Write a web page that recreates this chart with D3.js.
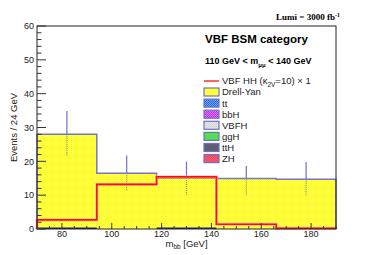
<!DOCTYPE html>
<html>
<head>
<meta charset="utf-8">
<script src="https://cdn.jsdelivr.net/npm/d3@7"></script>
<style>
body { margin: 0; background: white; }
text { font-family: "Liberation Sans", Arial, sans-serif; }
</style>
</head>
<body>
<div class="chart"></div>
<script>
var binEdges = [70, 94, 118, 142, 166, 190]
var dyValues = [28.0, 16.5, 15.1, 14.9, 14.7]
var ttValues = [0.15, 0, 0.15, 0, 0]
var signalValues = [2.7, 13.2, 15.4, 1.4, 0.2]
var errUp = [34.9, 21.7, 19.9, 18.6, 19.8]
var errDown = [21.5, 11.2, 10.2, 10.0, 9.8]
var xTicks = [80, 100, 120, 140, 160, 180]
var yTicks = [0, 10, 20, 30, 40, 50, 60]

var legendItems = [
    {name: "Drell-Yan", fill: "#ffff00", dot: "#ffff70"},
    {name: "tt", fill: "#1560e0", dot: "#80b0f0"},
    {name: "bbH", fill: "#b818f0", dot: "#e090fa"},
    {name: "VBFH", fill: "#cccccc", dot: "#efefef"},
    {name: "ggH", fill: "#10d010", dot: "#90f090"},
    {name: "ttH", fill: "#30303f", dot: "#9090a0"},
    {name: "ZH", fill: "#f01030", dot: "#f890a0"}
]

var width = 374, height = 255
var padL = 37, padR = 336, padT = 26, padB = 229

var svg = d3.select(".chart")
    .append("svg")
    .attr("width", width)
    .attr("height", height)

var defs = svg.append("defs")
legendItems.forEach(function(d, i) {
    var p = defs.append("pattern")
        .attr("id", "pat" + i)
        .attr("width", 2)
        .attr("height", 2)
        .attr("patternUnits", "userSpaceOnUse")
    p.append("rect").attr("width", 2).attr("height", 2).attr("fill", d.fill)
    p.append("rect").attr("width", 1).attr("height", 1).attr("fill", d.dot)
    p.append("rect").attr("x", 1).attr("y", 1).attr("width", 1).attr("height", 1).attr("fill", d.dot)
})

var x = d3.scaleLinear().domain([70, 190]).range([padL, padR])
var y = d3.scaleLinear().domain([0, 60]).range([padB, padT])

var bins = dyValues.map(function(v, i) {
    return {x0: binEdges[i], x1: binEdges[i + 1], dy: v, tt: ttValues[i],
        sig: signalValues[i], up: errUp[i], down: errDown[i]}
})

function stepPath(key) {
    var pts = [[x(binEdges[0]), y(0)]]
    bins.forEach(function(b) {
        pts.push([x(b.x0), y(b[key])])
        pts.push([x(b.x1), y(b[key])])
    })
    pts.push([x(binEdges[binEdges.length - 1]), y(0)])
    return d3.line()(pts)
}

// error bars (solid part above the stack)
svg.selectAll(".errUp")
    .data(bins)
    .enter().append("line")
    .attr("x1", function(d) { return x((d.x0 + d.x1) / 2) })
    .attr("x2", function(d) { return x((d.x0 + d.x1) / 2) })
    .attr("y1", function(d) { return y(d.up) })
    .attr("y2", function(d) { return y(d.dy) })
    .attr("stroke", "#6f6fc4")
    .attr("stroke-width", 1.2)

// Drell-Yan stack
svg.append("path")
    .attr("d", stepPath("dy"))
    .attr("fill", "url(#pat0)")
    .attr("stroke", "none")

// error bars inside the stack look dotted
svg.selectAll(".errDown")
    .data(bins)
    .enter().append("line")
    .attr("x1", function(d) { return x((d.x0 + d.x1) / 2) })
    .attr("x2", function(d) { return x((d.x0 + d.x1) / 2) })
    .attr("y1", function(d) { return y(d.dy) })
    .attr("y2", function(d) { return y(d.down) })
    .attr("stroke", "#8a8a80")
    .attr("stroke-width", 1.2)
    .attr("stroke-dasharray", "1,1")

svg.append("path")
    .attr("d", stepPath("dy"))
    .attr("fill", "none")
    .attr("stroke", "#7474cc")
    .attr("stroke-width", 1.5)

// tiny backgrounds at the bottom
svg.selectAll(".tt")
    .data(bins.filter(function(d) { return d.tt > 0 }))
    .enter().append("rect")
    .attr("x", function(d) { return x(d.x0) })
    .attr("width", function(d) { return x(d.x1) - x(d.x0) })
    .attr("y", function(d) { return y(d.tt) - 1 })
    .attr("height", function(d) { return y(0) - y(d.tt) + 1 })
    .attr("fill", "#20207a")

// signal
svg.append("path")
    .attr("d", stepPath("sig"))
    .attr("fill", "none")
    .attr("stroke", "#ffb0b0")
    .attr("stroke-width", 2.8)
svg.append("path")
    .attr("d", stepPath("sig"))
    .attr("fill", "none")
    .attr("stroke", "#ff1010")
    .attr("stroke-width", 1.6)

// frame
svg.append("rect")
    .attr("x", padL)
    .attr("y", padT)
    .attr("width", padR - padL)
    .attr("height", padB - padT)
    .attr("fill", "none")
    .attr("stroke", "#222")
    .attr("stroke-width", 1)

// axes with inward ticks
var yMinor = d3.range(0, 61, 2)
svg.selectAll(".yMinor")
    .data(yMinor)
    .enter().append("line")
    .attr("x1", padL)
    .attr("x2", function(d) { return d % 10 === 0 ? padL + 9 : padL + 4.5 })
    .attr("y1", function(d) { return y(d) })
    .attr("y2", function(d) { return y(d) })
    .attr("stroke", "#333")

svg.selectAll(".yLabel")
    .data(yTicks)
    .enter().append("text")
    .attr("x", padL - 3)
    .attr("y", function(d) { return y(d) + 3.3 })
    .attr("text-anchor", "end")
    .style("font-size", "9px")
    .attr("fill", "#222")
    .text(function(d) { return d })

var xMinor = d3.range(70, 191, 5)
svg.selectAll(".xMinor")
    .data(xMinor)
    .enter().append("line")
    .attr("x1", function(d) { return x(d) })
    .attr("x2", function(d) { return x(d) })
    .attr("y1", padB)
    .attr("y2", function(d) { return d % 20 === 0 ? padB - 6 : padB - 3 })
    .attr("stroke", "#333")

svg.selectAll(".xLabel")
    .data(xTicks)
    .enter().append("text")
    .attr("x", function(d) { return x(d) })
    .attr("y", padB + 8)
    .attr("text-anchor", "middle")
    .style("font-size", "9px")
    .attr("fill", "#222")
    .text(function(d) { return d })

// axis titles
var xt = svg.append("text")
    .attr("x", (padL + padR) / 2)
    .attr("y", 246.5)
    .attr("text-anchor", "middle")
    .style("font-size", "9.5px")
    .attr("fill", "#222")
xt.append("tspan").text("m")
xt.append("tspan").attr("dy", 2.5).style("font-size", "6.5px").text("bb")
xt.append("tspan").attr("dy", -2.5).text(" [GeV]")

svg.append("text")
    .attr("transform", "translate(17," + ((padT + padB) / 2) + ") rotate(-90)")
    .attr("text-anchor", "middle")
    .style("font-size", "9.5px")
    .attr("fill", "#222")
    .text("Events / 24 GeV")

// lumi label
var lumi = svg.append("text")
    .attr("x", 340)
    .attr("y", 19.5)
    .attr("text-anchor", "end")
    .style("font-family", "'Liberation Serif', 'Times New Roman', serif")
    .style("font-weight", "bold")
    .style("font-size", "9px")
lumi.append("tspan").text("Lumi = 3000 fb")
lumi.append("tspan").attr("dy", -3).style("font-size", "6px").text("-1")

// category text
svg.append("text")
    .attr("x", 205)
    .attr("y", 43)
    .style("font-weight", "bold")
    .style("font-size", "11.5px")
    .text("VBF BSM category")

var cut = svg.append("text")
    .attr("x", 205)
    .attr("y", 64)
    .style("font-weight", "bold")
    .style("font-size", "9px")
cut.append("tspan").text("110 GeV < m")
cut.append("tspan").attr("dy", 2.5).style("font-size", "6px").text("μμ")
cut.append("tspan").attr("dy", -2.5).text(" < 140 GeV")

// legend
var sigEntry = svg.append("g").attr("transform", "translate(204,81)")
sigEntry.append("line")
    .attr("x1", 0).attr("x2", 15)
    .attr("stroke", "#ff1010").attr("stroke-width", 1.3)
var st = sigEntry.append("text")
    .attr("x", 18)
    .attr("y", 3.4)
    .style("font-size", "9.5px")
    .attr("fill", "#222")
st.append("tspan").text("VBF HH (κ")
st.append("tspan").attr("dy", 2.5).style("font-size", "6.5px").text("2V")
st.append("tspan").attr("dy", -2.5).text("=10) × 1")

var legendItem = svg.selectAll(".legendItem")
    .data(legendItems)
    .enter().append("g")
    .attr("class", "legendItem")
    .attr("transform", function(d, i) {
        return "translate(204," + (92 + i * 11.1) + ")"
    })

legendItem.append("rect")
    .attr("x", 0)
    .attr("y", -4)
    .attr("width", 15)
    .attr("height", 8)
    .attr("fill", function(d, i) { return "url(#pat" + i + ")" })
    .attr("stroke", "#6f6fc4")
    .attr("stroke-width", 1.2)

legendItem.append("text")
    .attr("x", 18)
    .attr("y", 3.4)
    .style("font-size", "9.5px")
    .attr("fill", "#222")
    .text(function(d) { return d.name })
</script>
</body>
</html>
